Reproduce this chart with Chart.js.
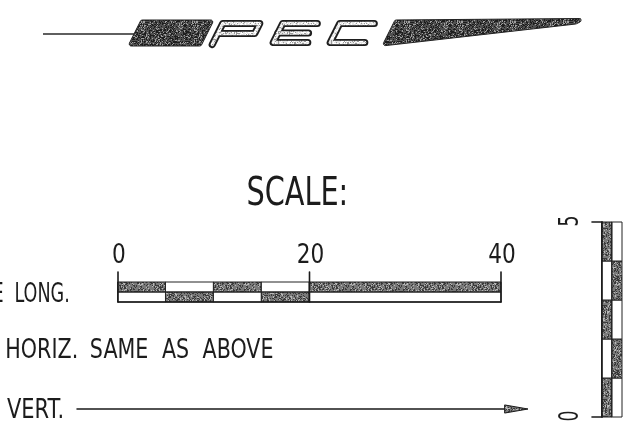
<!DOCTYPE html>
<html><head><meta charset="utf-8">
<script src="https://cdn.jsdelivr.net/npm/chart.js@4"></script>
<style>html,body{margin:0;padding:0;background:#fff;overflow:hidden}canvas{display:block}</style>
</head><body>
<canvas id="c" width="623" height="438"></canvas>
<script>
// ---- data ----
const longTickValues = [0, 20, 40];
const longTickLabels = ["0", "20", "40"];
const longBoundaries = [0, 5, 10, 15, 20, 40];
const longTopRowDark = [true, false, true, false, true];
const vertTickValues = [0, 5];
const vertTickLabels = ["0", "5"];
const vertBoundaries = [0, 1, 2, 3, 4, 5];
const vertLeftColDark = [true, false, true, false, true];
const titleText = "SCALE:";
const cutLabel = "E";
const longLabel = "LONG.";
const horizLabel = "HORIZ. SAME AS ABOVE";
const vertLabel = "VERT.";

const FONT = '"DejaVu Sans Condensed", "DejaVu Sans", sans-serif';
const INK = '#1c1c1c';

function makePattern(ctx, base, dark, light, seed, pd, pl) {
  const c = document.createElement('canvas'); c.width = 53; c.height = 47;
  const g = c.getContext('2d');
  g.fillStyle = base; g.fillRect(0, 0, c.width, c.height);
  let s = seed >>> 0;
  for (let y = 0; y < c.height; y++) for (let x = 0; x < c.width; x++) {
    s = (Math.imul(s, 1103515245) + 12345) >>> 0;
    const r = (s >>> 16) % 100;
    if (r < pd) { g.fillStyle = dark; g.fillRect(x, y, 1, 1); }
    else if (r >= 100 - pl) { g.fillStyle = light; g.fillRect(x, y, 1, 1); }
  }
  return ctx.createPattern(c, 'repeat');
}

function fontFor(cap) { return (cap / 0.729).toFixed(2) + 'px ' + FONT; }

function drawFit(ctx, text, xLeft, baseline, cap, width) {
  ctx.save();
  ctx.font = fontFor(cap);
  ctx.textAlign = 'left'; ctx.textBaseline = 'alphabetic';
  const m = ctx.measureText(text);
  const ink = m.actualBoundingBoxLeft + m.actualBoundingBoxRight;
  const sx = width / ink;
  ctx.translate(xLeft, baseline);
  ctx.scale(sx, 1);
  ctx.fillStyle = INK;
  ctx.fillText(text, m.actualBoundingBoxLeft, 0);
  ctx.restore();
  return sx;
}
function drawScaled(ctx, text, cx, baseline, cap, sx, rot) {
  ctx.save();
  ctx.font = fontFor(cap);
  ctx.textAlign = 'center'; ctx.textBaseline = 'alphabetic';
  ctx.translate(cx, baseline);
  if (rot) ctx.rotate(rot);
  ctx.scale(sx, 1);
  ctx.fillStyle = INK;
  ctx.fillText(text, 0, 0);
  ctx.restore();
}
function inkWidth(ctx, text, cap) {
  ctx.save(); ctx.font = fontFor(cap);
  const m = ctx.measureText(text); ctx.restore();
  return m.actualBoundingBoxLeft + m.actualBoundingBoxRight;
}

function roundPoly(ctx, pts, r) {
  ctx.beginPath();
  const n = pts.length;
  for (let i = 0; i < n; i++) {
    const p0 = pts[(i - 1 + n) % n], p1 = pts[i], p2 = pts[(i + 1) % n];
    const mx = (p0[0] + p1[0]) / 2, my = (p0[1] + p1[1]) / 2;
    if (i === 0) ctx.moveTo(mx, my);
    ctx.arcTo(p1[0], p1[1], (p1[0] + p2[0]) / 2, (p1[1] + p2[1]) / 2, r);
  }
  ctx.closePath();
}

const drawing = {
  id: 'scaleDrawing',
  beforeDraw(chart) {
    const ctx = chart.ctx;
    ctx.save();
    ctx.fillStyle = '#fff';
    ctx.fillRect(0, 0, chart.width, chart.height);
    ctx.restore();
  },
  afterDraw(chart) {
    const ctx = chart.ctx;
    const xs = chart.scales.x, ys = chart.scales.y;
    const barPat = makePattern(ctx, '#7a7a7a', '#3a3a3a', '#b8b8b8', 7, 30, 14);
    const logoPat = makePattern(ctx, '#505050', '#1e1e1e', '#a0a0a0', 11, 34, 16);
    const letterPat = makePattern(ctx, '#e4e4e4', '#9a9a9a', '#ffffff', 23, 15, 30);
    ctx.save();

    // ---------- logo ----------
    const yB = 46, k = 0.5;
    const P = (u, v) => [u + k * v, yB - v];
    ctx.strokeStyle = '#2a2a2a'; ctx.lineWidth = 1.6;
    ctx.beginPath(); ctx.moveTo(43, 34); ctx.lineTo(136, 34); ctx.stroke();
    roundPoly(ctx, [P(128, 0), P(128, 26), P(201, 26), P(201, 0)], 2);
    ctx.fillStyle = logoPat; ctx.fill();
    ctx.strokeStyle = '#222'; ctx.lineWidth = 1; ctx.stroke();
    const letterPaths = [
      [[[211.5, 1.5], [211.5, 22.5], [248.5, 22.5], [248.5, 12.5], [213, 12.5]]],
      [[[306, 22.5], [271.5, 22.5], [271.5, 3.5], [306, 3.5]], [[271.5, 13], [302, 13]]],
      [[[363, 22.5], [328.5, 22.5], [328.5, 3.5], [363, 3.5]]]
    ];
    const strokeLetters = (w, col) => {
      ctx.lineWidth = w; ctx.strokeStyle = col; ctx.lineJoin = 'round'; ctx.lineCap = 'round';
      letterPaths.forEach(paths => paths.forEach(pth => {
        ctx.beginPath();
        pth.forEach((q, i) => { const p = P(q[0], q[1]); i ? ctx.lineTo(p[0], p[1]) : ctx.moveTo(p[0], p[1]); });
        ctx.stroke();
      }));
    };
    strokeLetters(7.2, '#1e1e1e');
    strokeLetters(3.4, letterPat);
    roundPoly(ctx, [P(382, 0), P(382, 26), [580, 18.5], [583, 20.5], [576, 24]], 2);
    ctx.fillStyle = logoPat; ctx.fill();
    ctx.strokeStyle = '#222'; ctx.lineWidth = 1; ctx.stroke();

    // ---------- title ----------
    drawFit(ctx, titleText, 248, 205, 29, 97);

    // ---------- long scale bar ----------
    const r0 = 282, r1 = 292, r2 = 302;
    for (let i = 0; i < longBoundaries.length - 1; i++) {
      const xa = xs.getPixelForValue(longBoundaries[i]);
      const xb = xs.getPixelForValue(longBoundaries[i + 1]);
      const topDark = longTopRowDark[i];
      ctx.fillStyle = topDark ? barPat : '#fff';
      ctx.fillRect(xa, r0, xb - xa, r1 - r0);
      ctx.fillStyle = topDark ? '#fff' : barPat;
      ctx.fillRect(xa, r1, xb - xa, r2 - r1);
      ctx.strokeStyle = '#222'; ctx.lineWidth = 1;
      ctx.strokeRect(xa, r0, xb - xa, r1 - r0);
      ctx.strokeRect(xa, r1, xb - xa, r2 - r1);
    }
    ctx.strokeStyle = '#1a1a1a'; ctx.lineWidth = 1.6;
    ctx.beginPath();
    ctx.moveTo(xs.getPixelForValue(longBoundaries[0]), r2);
    ctx.lineTo(xs.getPixelForValue(longBoundaries[longBoundaries.length - 1]), r2);
    ctx.stroke();
    const numSx = 12 / inkWidth(ctx, '0', 19);
    longTickValues.forEach((v, i) => {
      const x = xs.getPixelForValue(v);
      ctx.strokeStyle = '#1a1a1a'; ctx.lineWidth = 1.6;
      ctx.beginPath(); ctx.moveTo(x, 272); ctx.lineTo(x, r2); ctx.stroke();
      drawScaled(ctx, longTickLabels[i], x + 1, 263, 19, numSx, 0);
    });

    // ---------- left labels ----------
    const sxLong = drawFit(ctx, longLabel, 16, 302, 19, 52);
    ctx.save();
    ctx.font = fontFor(19);
    const mE = ctx.measureText(cutLabel);
    ctx.translate(3, 302); ctx.scale(sxLong, 1);
    ctx.fillStyle = INK; ctx.textAlign = 'left';
    ctx.fillText(cutLabel, -mE.actualBoundingBoxRight, 0);
    ctx.restore();
    // horizontal note: uniform letter scale, wide word gaps
    const words = horizLabel.split(' ');
    const gap = 14, startX = 7, totalW = 266;
    const rawSum = words.reduce((s, w) => s + inkWidth(ctx, w, 20), 0);
    let wx = startX;
    const wsx = (totalW - gap * (words.length - 1)) / rawSum;
    words.forEach(w => {
      const wW = inkWidth(ctx, w, 20) * wsx;
      drawFit(ctx, w, wx, 358, 20, wW);
      wx += wW + gap;
    });
    drawFit(ctx, vertLabel, 7, 418, 19, 55);

    // arrow
    ctx.strokeStyle = '#1a1a1a'; ctx.lineWidth = 1.5;
    ctx.beginPath(); ctx.moveTo(77, 409); ctx.lineTo(507, 409); ctx.stroke();
    ctx.beginPath(); ctx.moveTo(505, 405); ctx.lineTo(528, 409); ctx.lineTo(505, 413); ctx.closePath();
    ctx.fillStyle = barPat; ctx.fill(); ctx.lineWidth = 1; ctx.stroke();

    // ---------- vertical scale bar ----------
    const c0 = 602, c1 = 612, c2 = 622;
    for (let j = 0; j < vertBoundaries.length - 1; j++) {
      const ya = ys.getPixelForValue(vertBoundaries[j + 1]);
      const yb = ys.getPixelForValue(vertBoundaries[j]);
      const leftDark = vertLeftColDark[j];
      ctx.fillStyle = leftDark ? barPat : '#fff';
      ctx.fillRect(c0, ya, c1 - c0, yb - ya);
      ctx.fillStyle = leftDark ? '#fff' : barPat;
      ctx.fillRect(c1, ya, c2 - c1, yb - ya);
      ctx.strokeStyle = '#222'; ctx.lineWidth = 1;
      ctx.strokeRect(c0, ya, c1 - c0, yb - ya);
      ctx.strokeRect(c1, ya, c2 - c1, yb - ya);
    }
    ctx.strokeStyle = '#1a1a1a'; ctx.lineWidth = 1.6;
    ctx.beginPath();
    ctx.moveTo(c0, ys.getPixelForValue(vertBoundaries[0]));
    ctx.lineTo(c0, ys.getPixelForValue(vertBoundaries[vertBoundaries.length - 1]));
    ctx.stroke();
    vertTickValues.forEach((v, i) => {
      const y = ys.getPixelForValue(v);
      ctx.strokeStyle = '#1a1a1a'; ctx.lineWidth = 1.6;
      ctx.beginPath(); ctx.moveTo(592, y); ctx.lineTo(c0, y); ctx.stroke();
      drawScaled(ctx, vertTickLabels[i], 578, y - 1, 19, numSx * 0.8, -Math.PI / 2);
    });

    ctx.restore();
  }
};

// long scale: 0 -> x=118px, 40 -> x=501px ; vertical scale: 0 -> y=417px, 5 -> y=222px
const W = 623, H = 438;
const xPerUnit = (501 - 118) / 40;
const yPerUnit = (417 - 222) / 5;

new Chart(document.getElementById('c'), {
  type: 'scatter',
  data: { datasets: [] },
  options: {
    responsive: false,
    animation: false,
    layout: { padding: 0 },
    plugins: { legend: { display: false }, tooltip: { enabled: false } },
    scales: {
      x: { type: 'linear', display: false, min: -118 / xPerUnit, max: (W - 118) / xPerUnit },
      y: { type: 'linear', display: false, min: -(H - 417) / yPerUnit, max: 417 / yPerUnit }
    }
  },
  plugins: [drawing]
});
</script>
</body></html>
